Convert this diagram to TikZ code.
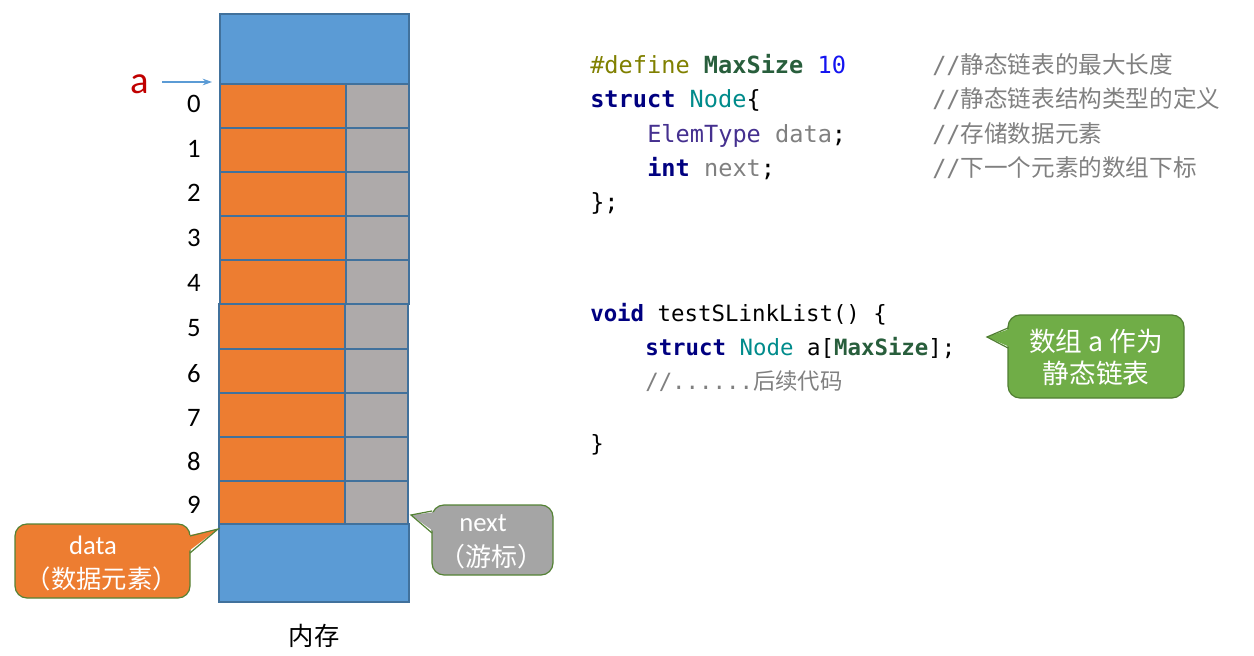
\documentclass[tikz,border=0pt]{standalone}
\usepackage{fontspec}
\setmainfont{Carlito}
\newfontfamily\cjk{Noto Sans CJK SC}
\newfontfamily\codefont{DejaVu Sans Mono}
\usetikzlibrary{arrows.meta}
\definecolor{memblue}{HTML}{5B9BD5}
\definecolor{memorange}{HTML}{ED7D31}
\definecolor{memgray}{HTML}{AEAAAA}
\definecolor{memborder}{HTML}{41719C}
\definecolor{callborder}{HTML}{548235}
\definecolor{callgray}{HTML}{A5A5A5}
\definecolor{callgreen}{HTML}{70AD47}
\definecolor{callgreenb}{HTML}{507E32}
\definecolor{aredred}{HTML}{C00000}
\definecolor{kwolive}{HTML}{808000}
\definecolor{kwgreen}{HTML}{285E3C}
\definecolor{kwblue}{HTML}{1414F0}
\definecolor{kwnavy}{HTML}{000080}
\definecolor{kwteal}{HTML}{008B8B}
\definecolor{kwpurple}{HTML}{45308F}
\definecolor{cgray}{HTML}{808080}
\begin{document}
\begin{tikzpicture}[x=0.75pt,y=-0.75pt,
  cellb/.style={draw=memborder, line width=1.2pt},
  idx/.style={font=\fontsize{20}{24}\selectfont, inner sep=0pt},
  code/.style={anchor=base west, inner sep=0pt, font=\codefont\fontsize{17.7}{21}\selectfont},
  codeb/.style={anchor=base west, inner sep=0pt, font=\codefont\fontsize{16.8}{20}\selectfont},
  cmt/.style={anchor=base west, inner sep=0pt, text=cgray, font=\fontsize{17.7}{21}\selectfont},
  callbox/.style={rounded corners=9pt, line width=0.9pt, inner sep=0pt},
  calltxt/.style={text=white, inner sep=0pt}
]
\useasboundingbox (0,0) rectangle (1254,656);

% ---------------- memory block ----------------
\fill[memblue] (220,14) rectangle (409,84);
\draw[cellb] (220,14) rectangle (409,84);
\foreach \i in {0,...,4}{
  \pgfmathsetmacro{\ya}{84+44*\i}
  \pgfmathsetmacro{\yb}{128+44*\i}
  \draw[cellb, fill=memorange] (220,\ya) rectangle (346,\yb);
  \draw[cellb, fill=memgray] (346,\ya) rectangle (409,\yb);
}
\foreach \ya/\yb in {304/349,349/393,393/437,437/481,481/524}{
  \draw[cellb, fill=memorange] (219,\ya) rectangle (345,\yb);
  \draw[cellb, fill=memgray] (345,\ya) rectangle (408,\yb);
}
\draw[cellb, fill=memblue] (219,524) rectangle (409,602);

% index labels
\foreach \n/\y in {0/104,1/149,2/193,3/238,4/283,5/328,6/374,7/418,8/461,9/505}{
  \node[idx] (i\n) at (194,\y) {\n};
}

% pointer a
\node[text=aredred, font=\fontsize{29}{32}\selectfont, inner sep=0pt] (alabel) at (140,84) {a};
\coordinate (atip) at (212,82);
\coordinate (astart) at (162,82);
\draw[memblue, line width=0.8pt, -{Stealth[length=7pt,width=5pt]}] (astart) -- (atip);

% label under memory
\node[font=\cjk\fontsize{19}{22}\selectfont, inner sep=0pt] (neicun) at (314,636) {内存};

% ---------------- data callout ----------------
\node[callbox, draw=callborder, fill=memorange, minimum width=175*0.75pt, minimum height=74*0.75pt] (databox) at (102.5,561) {};
\coordinate (datatip) at (218,529);
\fill[memorange] (186,536) -- (datatip) -- (186,553) -- cycle;
\draw[callborder, line width=0.9pt, line join=miter] (190,536) -- (datatip) -- (190,553);
\node[calltxt, font=\fontsize{20}{24}\selectfont] (datatxt) at (93,545) {data};
\node[calltxt, font=\cjk\fontsize{19}{22}\selectfont] (datatxt2) at (102,579) {（数据元素）};

% ---------------- next callout ----------------
\node[callbox, draw=callborder, fill=callgray, minimum width=121*0.75pt, minimum height=70*0.75pt] (nextbox) at (492.5,540) {};
\coordinate (nexttip) at (411,515);
\fill[callgray] (436,512) -- (nexttip) -- (436,533) -- cycle;
\draw[callborder, line width=0.9pt, line join=miter] (432,511) -- (nexttip) -- (432,533);
\node[calltxt, font=\fontsize{20}{24}\selectfont] (nexttxt) at (483,523) {next};
\node[calltxt, font=\cjk\fontsize{19.5}{22}\selectfont] (nexttxt2) at (491,557) {（游标）};

% ---------------- green callout ----------------
\node[callbox, draw=callgreenb, fill=callgreen, minimum width=176*0.75pt, minimum height=83*0.75pt] (greenbox) at (1096,356.5) {};
\coordinate (greentip) at (987,337);
\fill[callgreen] (1012,328) -- (greentip) -- (1012,348) -- cycle;
\draw[callgreenb, line width=0.9pt, line join=miter] (1008,328) -- (greentip) -- (1008,348);
\node[calltxt, font=\cjk\fontsize{20}{24}\selectfont] (gtxt1) at (1096,341) {数组 a 作为};
\node[calltxt, font=\cjk\fontsize{20}{24}\selectfont] (gtxt2) at (1096,373) {静态链表};

% ---------------- code ----------------
\node[code] (c1) at (590,74) {{\color{kwolive}\#define} {\bfseries\color{kwgreen}MaxSize} {\color{kwblue}10}};
\node[code] (c2) at (590,108) {{\bfseries\color{kwnavy}struct} {\color{kwteal}Node}\{};
\node[code] (c3) at (647,143) {{\color{kwpurple}ElemType} {\color{cgray}data};};
\node[code] (c4) at (647,177) {{\bfseries\color{kwnavy}int} {\color{cgray}next};};
\node[code] (c5) at (590,211) {\};};

\node[cmt] (m1) at (932,74) {{\codefont //}{\cjk 静态链表的最大长度}};
\node[cmt] (m2) at (932,108) {{\codefont //}{\cjk 静态链表结构类型的定义}};
\node[cmt] (m3) at (932,143) {{\codefont //}{\cjk 存储数据元素}};
\node[cmt] (m4) at (932,177) {{\codefont //}{\cjk 下一个元素的数组下标}};

\node[codeb] (c6) at (590,321) {{\bfseries\color{kwnavy}void} testSLinkList() \{};
\node[codeb] (c7) at (645,355) {{\bfseries\color{kwnavy}struct} {\color{kwteal}Node} a[{\bfseries\color{kwgreen}MaxSize}];};
\node[codeb, text=cgray] (c8) at (645,389) {//......{\cjk 后续代码}};
\node[codeb] (c9) at (590,451) {\}};
\end{tikzpicture}
\end{document}
